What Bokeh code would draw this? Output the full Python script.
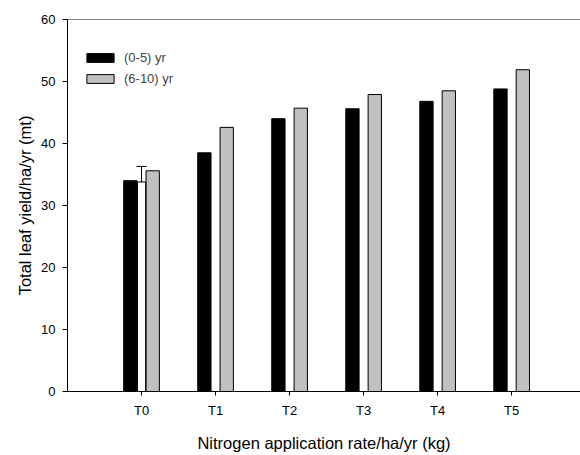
from bokeh.plotting import figure
from bokeh.models import Range1d, FixedTicker, Legend, LegendItem, Span, Whisker, TeeHead, ColumnDataSource
from bokeh.embed import file_html
from bokeh.resources import INLINE

categories = ["T0", "T1", "T2", "T3", "T4", "T5"]
yr_0_5 = [34.0, 38.5, 44.0, 45.6, 46.8, 48.8]
yr_6_10 = [35.6, 42.6, 45.7, 47.9, 48.5, 51.9]
err_base = [33.8]
err_upper = [36.3]
err_x = [0]

FONT = "Liberation Sans"

x = list(range(len(categories)))
p = figure(width=580, height=455, output_backend="svg", toolbar_location=None,
           x_range=Range1d(-1, 5.93), y_range=Range1d(0, 60),
           min_border_left=67, min_border_right=0, min_border_top=19, min_border_bottom=64)
p.outline_line_color = None
p.xgrid.visible = False
p.ygrid.visible = False
p.background_fill_color = "white"

off = 0.151
bw = 0.18
r1 = p.vbar(x=[v - off for v in x], top=yr_0_5, width=bw, fill_color="black", line_color="black", line_width=1)
r2 = p.vbar(x=[v + off for v in x], top=yr_6_10, width=bw, fill_color="#c0c0c0", line_color="black", line_width=1)

# hidden white bar with error bar at T0
p.vbar(x=err_x, top=err_base, width=0.11, fill_color="white", line_color="black", line_width=1)
src = ColumnDataSource(dict(x=err_x, lo=err_base, hi=err_upper))
w = Whisker(base="x", lower="lo", upper="hi", source=src, dimension="height",
            line_color="black", line_width=1,
            upper_head=TeeHead(size=10, line_color="black", line_width=1), lower_head=None)
p.add_layout(w)

p.add_layout(Span(location=60, dimension="width", line_color="black", line_width=1))

p.xaxis.ticker = FixedTicker(ticks=x)
p.xaxis.major_label_overrides = {i: c for i, c in enumerate(categories)}
p.yaxis.ticker = FixedTicker(ticks=[0, 10, 20, 30, 40, 50, 60])
for ax in (p.xaxis, p.yaxis):
    ax.minor_tick_line_color = None
    ax.major_tick_in = 0
    ax.axis_line_color = "black"
    ax.major_tick_line_color = "black"
    ax.major_label_text_font = FONT
    ax.major_label_text_font_size = "13px"
    ax.major_label_text_color = "black"
    ax.axis_label_text_font = FONT
    ax.axis_label_text_font_size = "16.5px"
    ax.axis_label_text_font_style = "normal"
    ax.axis_label_text_color = "black"
p.xaxis.major_tick_out = 4
p.yaxis.major_tick_out = 5
p.xaxis.major_label_standoff = 7
p.yaxis.major_label_standoff = 7
p.xaxis.axis_label = "Nitrogen application rate/ha/yr (kg)"
p.yaxis.axis_label = "Total leaf yield/ha/yr (mt)"
p.xaxis.axis_label_standoff = 13
p.yaxis.axis_label_standoff = 4

legend = Legend(items=[LegendItem(label="(0-5) yr", renderers=[r1]),
                       LegendItem(label="(6-10) yr", renderers=[r2])],
                location=(16, 305), padding=0, margin=0, spacing=6,
                glyph_width=34, glyph_height=11, label_height=11, label_standoff=7,
                label_text_font=FONT, label_text_font_size="13px",
                border_line_color=None, background_fill_alpha=0)
p.add_layout(legend)

open("out.html", "w").write(file_html(p, INLINE))
